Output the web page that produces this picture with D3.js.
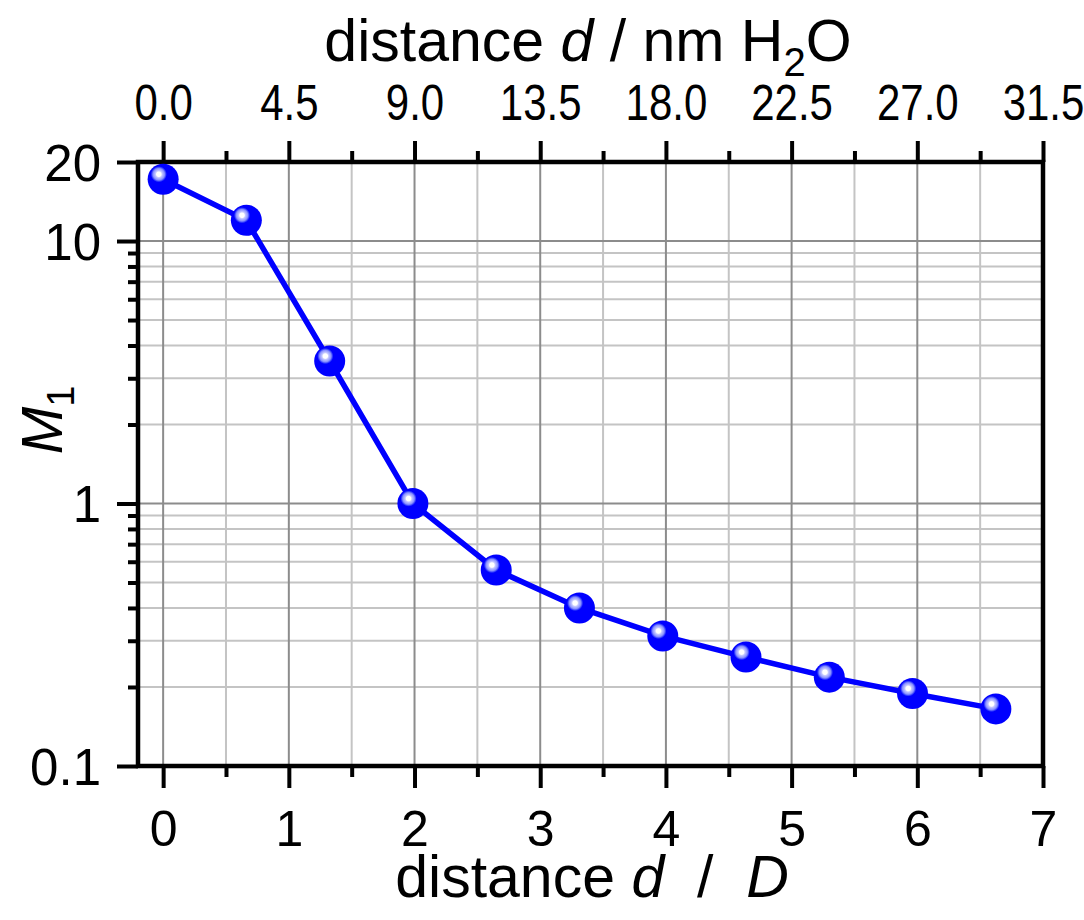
<!DOCTYPE html>
<html>
<head>
<meta charset="utf-8">
<script src="https://cdn.jsdelivr.net/npm/d3@7"></script>
<style>
  html, body { margin: 0; padding: 0; background: #fff; }
  svg { display: block; font-family: "Liberation Sans", Arial, sans-serif; }
</style>
</head>
<body>
<svg id="chart" width="1084" height="920"></svg>
<script>
// distance in units of D and the measured M1 at each distance
const distanceD = [0, 0.662, 1.325, 1.987, 2.65, 3.312, 3.975, 4.637, 5.3, 5.962, 6.625];
const m1Values = [17.2, 12.0, 3.49, 1.0, 0.558, 0.40, 0.313, 0.260, 0.218, 0.189, 0.165];

// axis ticks
const bottomMajor = [0, 1, 2, 3, 4, 5, 6, 7];
const bottomMinor = [0.5, 1.5, 2.5, 3.5, 4.5, 5.5, 6.5];
const topLabels = ["0.0", "4.5", "9.0", "13.5", "18.0", "22.5", "27.0", "31.5"];
const yMajor = [0.1, 1, 10, 20];
const yLabels = ["0.1", "1", "10", "20"];
const yMinor = [0.2, 0.3, 0.4, 0.5, 0.6, 0.7, 0.8, 0.9, 2, 3, 4, 5, 6, 7, 8, 9];
const yGridMajor = [1, 10];

const svg = d3.select("#chart");
const plotL = 138, plotR = 1043, plotT = 162, plotB = 766;

const x = d3.scaleLinear().domain([-0.2, 7]).range([plotL, plotR]);
const y = d3.scaleLog().domain([0.1, 20]).range([plotB, plotT]);

// marker shading: glossy sphere with a small highlight at upper left
const defs = svg.append("defs");
const grad = defs.append("radialGradient").attr("id", "ball")
  .attr("cx", 0.36).attr("cy", 0.34).attr("r", 0.26);
grad.append("stop").attr("offset", 0).attr("stop-color", "#ffffff");
grad.append("stop").attr("offset", 0.28).attr("stop-color", "#ffffff");
grad.append("stop").attr("offset", 0.42).attr("stop-color", "#c4c8ff");
grad.append("stop").attr("offset", 0.72).attr("stop-color", "#8890ff");
grad.append("stop").attr("offset", 0.9).attr("stop-color", "#2a34ff");
grad.append("stop").attr("offset", 1).attr("stop-color", "#0000ff");

// grid
const grid = svg.append("g");
grid.selectAll(".gxm").data(bottomMinor).join("line")
  .attr("x1", d => x(d)).attr("x2", d => x(d)).attr("y1", plotT).attr("y2", plotB)
  .attr("stroke", "#c4c4c4").attr("stroke-width", 2);
grid.selectAll(".gyn").data(yMinor).join("line")
  .attr("x1", plotL).attr("x2", plotR).attr("y1", d => y(d)).attr("y2", d => y(d))
  .attr("stroke", "#c4c4c4").attr("stroke-width", 2);
grid.selectAll(".gxM").data(bottomMajor.filter(d => d < 7)).join("line")
  .attr("x1", d => x(d)).attr("x2", d => x(d)).attr("y1", plotT).attr("y2", plotB)
  .attr("stroke", "#8c8c8c").attr("stroke-width", 2);
grid.selectAll(".gyM").data(yGridMajor).join("line")
  .attr("x1", plotL).attr("x2", plotR).attr("y1", d => y(d)).attr("y2", d => y(d))
  .attr("stroke", "#8c8c8c").attr("stroke-width", 2);

// axes
function styleAxis(g) {
  g.select(".domain").remove();
  g.selectAll(".tick line").attr("stroke", "#000").attr("stroke-width", 4);
  g.selectAll("text").attr("fill", "#000");
}

svg.append("g").attr("transform", `translate(0,${plotB})`)
  .call(d3.axisBottom(x).tickValues(bottomMinor).tickSize(11).tickFormat(""))
  .call(styleAxis);
svg.append("g").attr("transform", `translate(0,${plotB})`)
  .call(d3.axisBottom(x).tickValues(bottomMajor).tickSize(22).tickPadding(22).tickFormat(d3.format("d")))
  .call(styleAxis)
  .selectAll("text").attr("font-size", 50);

svg.append("g").attr("transform", `translate(0,${plotT})`)
  .call(d3.axisTop(x).tickValues(bottomMinor).tickSize(11).tickFormat(""))
  .call(styleAxis);
const topAxis = svg.append("g").attr("transform", `translate(0,${plotT})`)
  .call(d3.axisTop(x).tickValues(bottomMajor).tickSize(21).tickFormat((d, i) => topLabels[i]))
  .call(styleAxis);
topAxis.selectAll(".tick text")
  .attr("y", null).attr("dy", null)
  .attr("font-size", 50)
  .attr("transform", "translate(0,-42) scale(0.84,1)");

svg.append("g").attr("transform", `translate(${plotL},0)`)
  .call(d3.axisLeft(y).tickValues(yMinor).tickSize(10).tickFormat(""))
  .call(styleAxis);
svg.append("g").attr("transform", `translate(${plotL},0)`)
  .call(d3.axisLeft(y).tickValues(yMajor).tickSize(21).tickPadding(16).tickFormat((d, i) => yLabels[i]))
  .call(styleAxis)
  .selectAll("text").attr("font-size", 51).attr("dy", "0.36em");

// frame
svg.append("rect").attr("x", plotL).attr("y", plotT)
  .attr("width", plotR - plotL).attr("height", plotB - plotT)
  .attr("fill", "none").attr("stroke", "#000").attr("stroke-width", 4.5);

// series
const pts = distanceD.map((d, i) => [d, m1Values[i]]);
svg.append("path").datum(pts)
  .attr("d", d3.line().x(d => x(d[0])).y(d => y(d[1])))
  .attr("fill", "none").attr("stroke", "#0000ff").attr("stroke-width", 5.5);
svg.selectAll(".pt").data(pts).join("circle")
  .attr("cx", d => x(d[0])).attr("cy", d => y(d[1])).attr("r", 15.5)
  .attr("fill", "url(#ball)");

// titles
const tTop = svg.append("text").attr("x", 588).attr("y", 61)
  .attr("text-anchor", "middle").attr("font-size", 59).attr("fill", "#000");
tTop.append("tspan").text("distance ");
tTop.append("tspan").attr("font-style", "italic").text("d");
tTop.append("tspan").text(" / nm H");
tTop.append("tspan").attr("font-size", 40).attr("dy", 15).text("2");
tTop.append("tspan").attr("dy", -15).text("O");

const tBot = svg.append("text").attr("x", 592).attr("y", 897)
  .attr("text-anchor", "middle").attr("font-size", 59).attr("fill", "#000")
  .attr("xml:space", "preserve");
tBot.append("tspan").text("distance ");
tBot.append("tspan").attr("font-style", "italic").text("d");
tBot.append("tspan").text("  /  ");
tBot.append("tspan").attr("font-style", "italic").text("D");

const tY = svg.append("text").attr("transform", "translate(62,420) rotate(-90)")
  .attr("text-anchor", "middle").attr("font-size", 57).attr("fill", "#000");
tY.append("tspan").attr("font-style", "italic").text("M");
tY.append("tspan").attr("font-size", 38).attr("dy", 12).text("1");
</script>
</body>
</html>
